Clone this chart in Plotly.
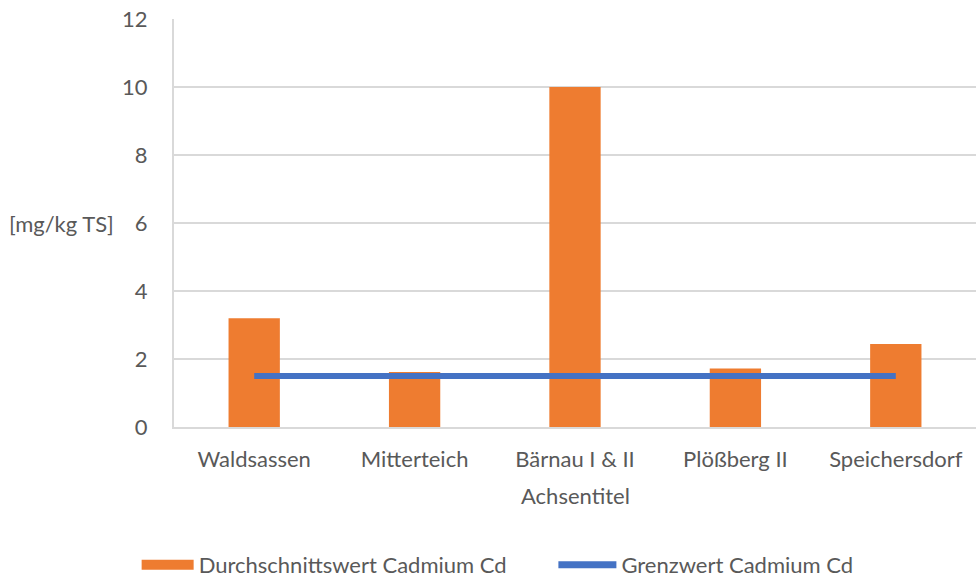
import plotly.graph_objects as go

categories = ["Waldsassen", "Mitterteich", "Bärnau I & II", "Plößberg II", "Speichersdorf"]
durchschnitt = [3.2, 1.62, 10.0, 1.72, 2.44]
grenzwert = [1.5, 1.5, 1.5, 1.5, 1.5]
y_ticks = [0, 2, 4, 6, 8, 10, 12]

FONT = "Lato"
GRAY = "#595959"
ORANGE = "#EE7C30"
BLUE = "#4472C4"
FS = 22

fig = go.Figure()
fig.add_trace(go.Bar(
    x=categories, y=durchschnitt, name="Durchschnittswert Cadmium Cd",
    marker=dict(color=ORANGE, line=dict(width=0)), showlegend=False,
))
fig.add_trace(go.Scatter(
    x=categories, y=grenzwert, name="Grenzwert Cadmium Cd", mode="lines",
    line=dict(color=BLUE, width=6), showlegend=False,
))
# legend-only entries (wide swatches like the reference)
fig.add_trace(go.Scatter(x=[None], y=[None], name="Durchschnittswert Cadmium Cd",
                         mode="lines", line=dict(color=ORANGE, width=14), legend="legend"))
fig.add_trace(go.Scatter(x=[None], y=[None], name="Grenzwert Cadmium Cd",
                         mode="lines", line=dict(color=BLUE, width=7), legend="legend2"))

leg_common = dict(orientation="h", xref="container", xanchor="left",
                  yref="container", y=0.0242, yanchor="middle",
                  font=dict(family=FONT, size=FS, color=GRAY))

fig.update_layout(
    width=976, height=579,
    margin=dict(l=174, r=0, t=19, b=152),
    paper_bgcolor="white", plot_bgcolor="white",
    bargap=0.68,
    font=dict(family=FONT, size=FS, color=GRAY),
    showlegend=True,
    legend=dict(x=0.140, itemwidth=52, **leg_common),
    legend2=dict(x=0.567, itemwidth=58, **leg_common),
    xaxis=dict(showgrid=False, showline=True, linecolor="#d9d9d9", linewidth=2,
               ticks="", automargin=False, ticklabelstandoff=12,
               ticklabeloverflow="allow", tickfont=dict(size=FS, color=GRAY)),
    yaxis=dict(range=[0, 12], tickvals=y_ticks, showgrid=True, gridcolor="#d9d9d9",
               gridwidth=2, zeroline=False, showline=True, linecolor="#d9d9d9", linewidth=2,
               ticks="", automargin=False, ticklabelstandoff=20,
               ticklabeloverflow="allow", tickfont=dict(size=FS, color=GRAY)),
    annotations=[
        dict(text="[mg/kg TS]", xref="paper", yref="y", x=-0.14, y=6,
             xanchor="center", yanchor="middle", showarrow=False,
             font=dict(family=FONT, size=FS, color=GRAY)),
        dict(text="Achsentitel", xref="paper", yref="paper", x=0.5, y=-0.169,
             xanchor="center", yanchor="middle", showarrow=False,
             font=dict(family=FONT, size=FS, color=GRAY)),
    ],
)

fig.write_html("out.html", config={"displayModeBar": False},
               post_script="document.body.style.margin='0';")
